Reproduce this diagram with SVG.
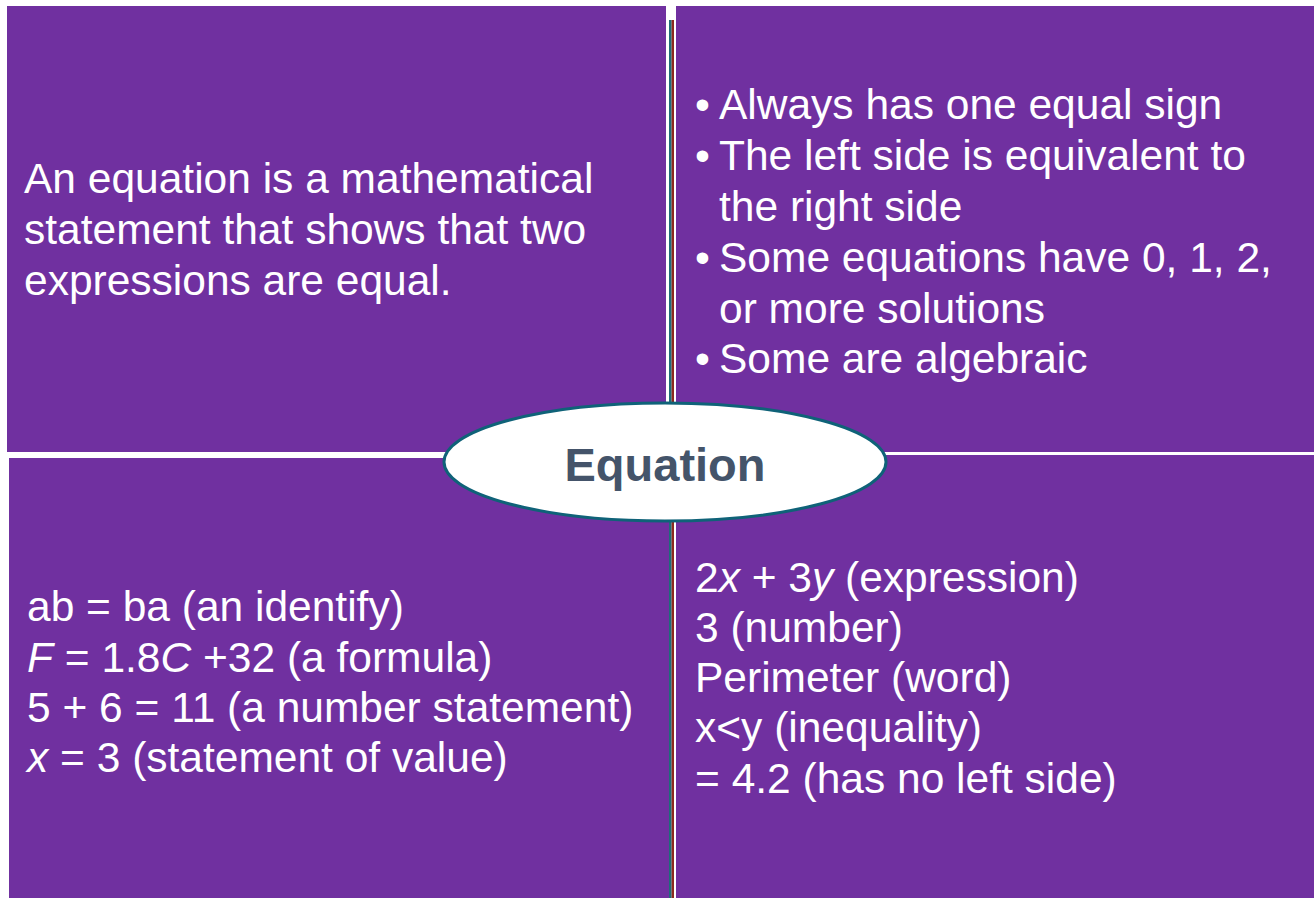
<svg xmlns="http://www.w3.org/2000/svg" width="1314" height="898" viewBox="0 0 1314 898">
<style>
.q{fill:#7030a0}
.t{font-family:"Liberation Sans",Arial,sans-serif;font-size:42.5px;fill:#ffffff}
.i{font-style:italic}
.h{font-family:"Liberation Sans",Arial,sans-serif;font-size:47px;font-weight:bold;fill:#44546a}
</style>
<rect width="1314" height="898" fill="#ffffff"/>
<g id="quadrant-top-left">
<rect class="q" x="7" y="6" width="659" height="446"/>
<text class="t"><tspan x="24" y="193">An equation is a mathematical</tspan><tspan x="24" y="244">statement that shows that two</tspan><tspan x="24" y="295">expressions are equal.</tspan></text>
</g>
<g id="quadrant-top-right">
<rect class="q" x="676" y="6" width="638" height="446"/>
<text class="t"><tspan x="695" y="119">•</tspan><tspan x="719" y="119">Always has one equal sign</tspan><tspan x="695" y="170">•</tspan><tspan x="719" y="170">The left side is equivalent to</tspan><tspan x="719" y="221">the right side</tspan><tspan x="695" y="272">•</tspan><tspan x="719" y="272">Some equations have 0, 1, 2,</tspan><tspan x="719" y="323">or more solutions</tspan><tspan x="695" y="373">•</tspan><tspan x="719" y="373">Some are algebraic</tspan></text>
</g>
<g id="quadrant-bottom-left">
<rect class="q" x="9" y="458" width="660" height="440"/>
<text class="t"><tspan x="27" y="621">ab = ba (an identify)</tspan><tspan x="27" y="672"><tspan class="i">F</tspan> = 1.8<tspan class="i">C</tspan> +32 (a formula)</tspan><tspan x="27" y="722">5 + 6 = 11 (a number statement)</tspan><tspan x="27" y="772"><tspan class="i">x</tspan> = 3 (statement of value)</tspan></text>
</g>
<g id="quadrant-bottom-right">
<rect class="q" x="676" y="455" width="638" height="443"/>
<text class="t"><tspan x="695" y="592">2<tspan class="i">x</tspan> + 3<tspan class="i">y</tspan> (expression)</tspan><tspan x="695" y="642">3 (number)</tspan><tspan x="695" y="692">Perimeter (word)</tspan><tspan x="695" y="742">x&lt;y (inequality)</tspan><tspan x="695" y="793">= 4.2 (has no left side)</tspan></text>
</g>
<g id="connectors">
<rect x="669" y="20" width="2.6" height="878" fill="#1f6b7a"/>
<rect x="671.6" y="20" width="2.4" height="878" fill="#8b2a1f"/>
</g>
<g id="center">
<ellipse cx="665" cy="462" rx="221" ry="59" fill="#ffffff" stroke="#0f6278" stroke-width="3"/>
<text class="h" x="665" y="481" text-anchor="middle">Equation</text>
</g>
</svg>
